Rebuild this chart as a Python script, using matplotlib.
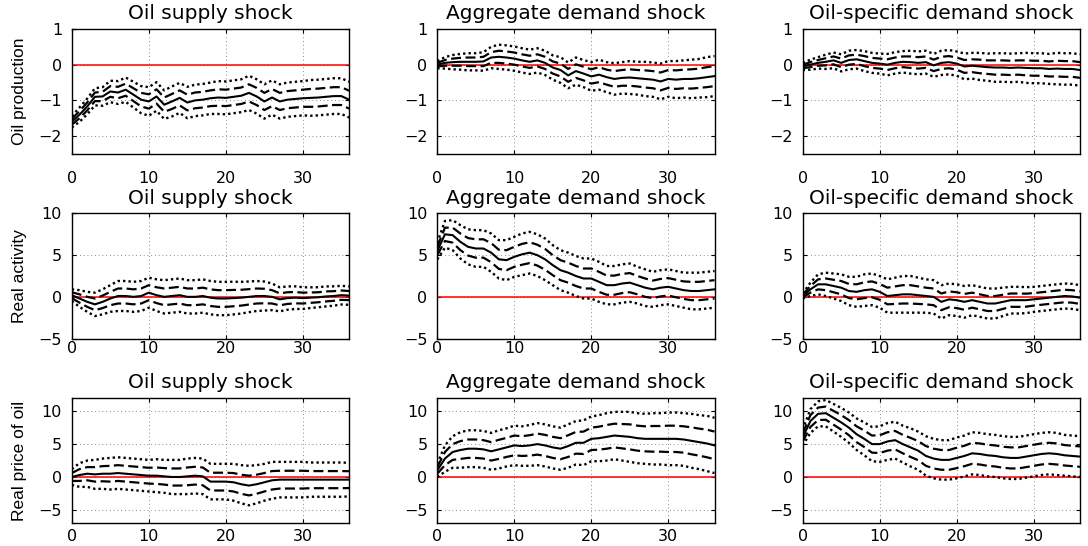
import matplotlib
matplotlib.use("Agg")
import matplotlib.pyplot as plt
import numpy as np

horizon = np.arange(37)

shock_titles = ["Oil supply shock", "Aggregate demand shock", "Oil-specific demand shock"]
var_labels = ["Oil production", "Real activity", "Real price of oil"]
y_limits = [(-2.5, 1), (-5, 10), (-7, 12)]
y_ticks = [[-2, -1, 0, 1], [-5, 0, 5, 10], [-5, 0, 5, 10]]
x_ticks = [0, 10, 20, 30]

# point estimates of the responses
oilprod_supply = [-1.60, -1.40, -1.17, -0.90, -0.89, -0.75, -0.78, -0.70, -0.84, -0.98, -1.03, -0.89, -1.12,
                  -1.03, -0.93, -1.06, -1.00, -0.98, -0.94, -0.92, -0.93, -0.90, -0.87, -0.79, -0.89, -1.03,
                  -0.92, -1.03, -0.98, -0.96, -0.94, -0.93, -0.92, -0.90, -0.88, -0.88, -0.98]
oilprod_agg = [0.00, 0.05, 0.07, 0.08, 0.08, 0.08, 0.09, 0.20, 0.22, 0.20, 0.17, 0.12, 0.08, 0.12, 0.05, -0.08,
               -0.15, -0.30, -0.18, -0.25, -0.33, -0.28, -0.35, -0.40, -0.37, -0.36, -0.38, -0.40, -0.42, -0.47,
               -0.40, -0.42, -0.40, -0.40, -0.38, -0.35, -0.32]
oilprod_spec = [-0.05, 0.00, 0.05, 0.08, 0.12, 0.05, 0.13, 0.15, 0.10, 0.05, 0.03, 0.00, 0.05, 0.08, 0.07, 0.05,
                0.07, -0.02, 0.05, 0.07, 0.03, -0.05, -0.03, -0.05, -0.07, -0.08, -0.08, -0.09, -0.08, -0.09,
                -0.10, -0.10, -0.12, -0.11, -0.12, -0.12, -0.15]
rea_supply = [0.2, -0.2, -0.6, -0.9, -0.6, -0.2, 0.1, 0.1, 0.0, 0.1, 0.5, 0.2, 0.0, 0.1, 0.2, 0.0, 0.0, 0.1,
              -0.1, -0.2, -0.2, -0.15, -0.1, 0.0, 0.1, 0.1, 0.0, -0.3, -0.15, -0.1, -0.15, -0.1, -0.05, 0.05,
              0.1, 0.2, 0.15]
rea_agg = [5.5, 7.5, 7.4, 6.6, 6.0, 5.8, 5.8, 5.3, 4.5, 4.4, 4.8, 5.1, 5.3, 5.0, 4.5, 3.8, 3.2, 2.9, 2.5, 2.2,
           2.2, 1.8, 1.4, 1.4, 1.6, 1.7, 1.4, 1.1, 0.9, 1.1, 1.2, 1.0, 0.8, 0.7, 0.7, 0.8, 0.9]
rea_spec = [0.1, 0.9, 1.5, 1.5, 1.3, 1.1, 0.7, 0.6, 0.8, 0.9, 0.6, 0.1, 0.2, 0.3, 0.3, 0.2, 0.1, 0.0, -0.6,
            -0.3, -0.4, -0.6, -0.4, -0.6, -0.8, -0.8, -0.6, -0.4, -0.4, -0.4, -0.3, -0.2, -0.1, 0.0, 0.1,
            0.05, -0.1]
rpo_supply = [0.0, 0.3, 0.5, 0.4, 0.5, 0.5, 0.6, 0.5, 0.4, 0.3, 0.2, 0.2, 0.1, 0.0, 0.0, 0.1, 0.2, 0.1, -0.7,
              -0.7, -0.7, -0.8, -1.1, -1.3, -1.1, -0.8, -0.5, -0.4, -0.4, -0.4, -0.4, -0.4, -0.4, -0.4, -0.4,
              -0.4, -0.4]
rpo_agg = [1.0, 2.8, 3.8, 4.1, 4.3, 4.3, 4.2, 3.9, 4.2, 4.5, 4.8, 4.7, 4.8, 5.0, 4.8, 4.5, 4.3, 4.7, 5.2, 5.2,
           5.8, 5.9, 6.1, 6.3, 6.2, 6.1, 5.9, 5.8, 5.8, 5.8, 5.8, 5.8, 5.7, 5.5, 5.3, 5.1, 4.8]
rpo_spec = [6.0, 8.5, 9.6, 9.7, 9.0, 8.3, 7.5, 6.5, 5.8, 5.0, 5.0, 5.4, 5.6, 5.0, 4.5, 4.0, 3.2, 2.8, 2.6, 2.6,
            2.9, 3.2, 3.6, 3.5, 3.3, 3.2, 3.0, 2.9, 2.9, 3.1, 3.3, 3.5, 3.6, 3.5, 3.3, 3.2, 3.1]

# standard errors (dashed = 1 se, dotted = 2 se)
oilprod_supply_se = [0.08, 0.10, 0.11, 0.12, 0.13, 0.15, 0.16, 0.17, 0.18, 0.19, 0.20, 0.20, 0.20, 0.21, 0.21,
                     0.22, 0.22, 0.22, 0.22, 0.23, 0.23, 0.23, 0.23, 0.24, 0.24, 0.24, 0.24, 0.24, 0.24, 0.24,
                     0.24, 0.25, 0.25, 0.25, 0.25, 0.25, 0.25]
oilprod_agg_se = [0.05, 0.08, 0.10, 0.11, 0.12, 0.12, 0.13, 0.15, 0.17, 0.17, 0.17, 0.17, 0.17, 0.17, 0.17, 0.17,
                  0.18, 0.18, 0.19, 0.19, 0.20, 0.21, 0.21, 0.22, 0.22, 0.23, 0.23, 0.24, 0.24, 0.25, 0.25, 0.26,
                  0.26, 0.27, 0.27, 0.28, 0.28]
oilprod_spec_se = [0.05, 0.07, 0.08, 0.10, 0.11, 0.12, 0.13, 0.13, 0.14, 0.14, 0.14, 0.15, 0.15, 0.15, 0.16,
                   0.16, 0.16, 0.16, 0.17, 0.17, 0.17, 0.18, 0.18, 0.19, 0.19, 0.20, 0.20, 0.20, 0.20, 0.21,
                   0.21, 0.21, 0.21, 0.22, 0.22, 0.22, 0.22]
rea_supply_se = [0.35, 0.5, 0.6, 0.7, 0.75, 0.8, 0.9, 0.9, 0.9, 0.9, 0.9, 0.95, 1.0, 1.0, 1.0, 1.0, 1.0, 1.0,
                 1.0, 1.0, 1.0, 0.98, 0.95, 0.92, 0.9, 0.87, 0.8, 0.72, 0.7, 0.68, 0.65, 0.62, 0.6, 0.6, 0.58,
                 0.56, 0.55]
rea_agg_se = [0.5, 0.8, 0.9, 1.0, 1.05, 1.1, 1.1, 1.15, 1.15, 1.2, 1.2, 1.25, 1.25, 1.25, 1.25, 1.2, 1.2, 1.2,
              1.2, 1.2, 1.2, 1.2, 1.15, 1.15, 1.15, 1.15, 1.1, 1.1, 1.05, 1.05, 1.05, 1.05, 1.05, 1.1, 1.1,
              1.1, 1.1]
rea_spec_se = [0.15, 0.4, 0.6, 0.7, 0.75, 0.8, 0.85, 0.9, 0.95, 0.95, 0.95, 1.0, 1.05, 1.1, 1.1, 1.05, 1.0,
               1.0, 1.0, 0.95, 0.95, 0.95, 0.9, 0.9, 0.9, 0.9, 0.85, 0.8, 0.8, 0.78, 0.75, 0.75, 0.75, 0.75,
               0.75, 0.75, 0.75]
rpo_supply_se = [0.6, 0.9, 1.0, 1.1, 1.15, 1.2, 1.2, 1.2, 1.2, 1.2, 1.2, 1.25, 1.25, 1.3, 1.3, 1.35, 1.35,
                 1.35, 1.35, 1.35, 1.35, 1.4, 1.45, 1.5, 1.45, 1.4, 1.4, 1.35, 1.35, 1.35, 1.35, 1.3, 1.3, 1.3,
                 1.3, 1.3, 1.28]
rpo_agg_se = [0.5, 1.0, 1.2, 1.35, 1.4, 1.4, 1.4, 1.4, 1.45, 1.45, 1.5, 1.5, 1.55, 1.6, 1.6, 1.6, 1.6, 1.65,
              1.65, 1.7, 1.7, 1.75, 1.8, 1.8, 1.85, 1.9, 1.9, 1.9, 1.95, 1.95, 2.0, 2.0, 2.0, 2.05, 2.05, 2.1,
              2.1]
rpo_spec_se = [0.6, 0.9, 0.95, 1.0, 1.05, 1.1, 1.15, 1.2, 1.25, 1.3, 1.35, 1.4, 1.4, 1.4, 1.45, 1.45, 1.5,
               1.5, 1.5, 1.5, 1.55, 1.55, 1.6, 1.6, 1.6, 1.6, 1.6, 1.6, 1.6, 1.6, 1.6, 1.6, 1.6, 1.6, 1.55,
               1.55, 1.55]

responses = [[oilprod_supply, oilprod_agg, oilprod_spec],
             [rea_supply, rea_agg, rea_spec],
             [rpo_supply, rpo_agg, rpo_spec]]
std_errors = [[oilprod_supply_se, oilprod_agg_se, oilprod_spec_se],
              [rea_supply_se, rea_agg_se, rea_spec_se],
              [rpo_supply_se, rpo_agg_se, rpo_spec_se]]

# x tick label distance differs per row in the original
x_pads = [12, 2, 4]

plt.rcParams['font.family'] = 'DejaVu Sans'
fig, axes = plt.subplots(3, 3, figsize=(10.88, 5.46), dpi=100)
fig.subplots_adjust(left=0.066, right=0.9926, top=0.947, bottom=0.042, wspace=0.318, hspace=0.476)

for i in range(3):
    for j in range(3):
        ax = axes[i, j]
        irf = np.array(responses[i][j])
        se = np.array(std_errors[i][j])
        ax.plot(horizon, np.zeros_like(horizon), color='#ff0000', lw=1.1, zorder=2)
        ax.plot(horizon, irf + 2 * se, color='black', lw=1.7, linestyle=(0, (1, 1.3)), zorder=3)
        ax.plot(horizon, irf - 2 * se, color='black', lw=1.7, linestyle=(0, (1, 1.3)), zorder=3)
        ax.plot(horizon, irf + se, color='black', lw=1.6, linestyle=(0, (4.5, 2)), zorder=3)
        ax.plot(horizon, irf - se, color='black', lw=1.6, linestyle=(0, (4.5, 2)), zorder=3)
        ax.plot(horizon, irf, color='black', lw=1.5, zorder=4)

        ax.set_xlim(0, 36)
        ax.set_ylim(*y_limits[i])
        ax.set_xticks(x_ticks)
        ax.set_yticks(y_ticks[i])
        ax.grid(True, color='#666666', linestyle=(0, (1, 3.5)), linewidth=0.6)
        ax.tick_params(direction='in', length=3, width=0.8, top=True, right=True, labelsize=11.5)
        ax.tick_params(axis='x', pad=x_pads[i])
        ax.tick_params(axis='y', pad=7)
        for sp in ax.spines.values():
            sp.set_linewidth(1.0)
        ax.set_title(shock_titles[j], fontsize=14.5, pad=7)
        if j == 0:
            ax.set_ylabel(var_labels[i], family='Liberation Sans', fontsize=12.5, labelpad=8)

fig.savefig('out.png', dpi=100)
